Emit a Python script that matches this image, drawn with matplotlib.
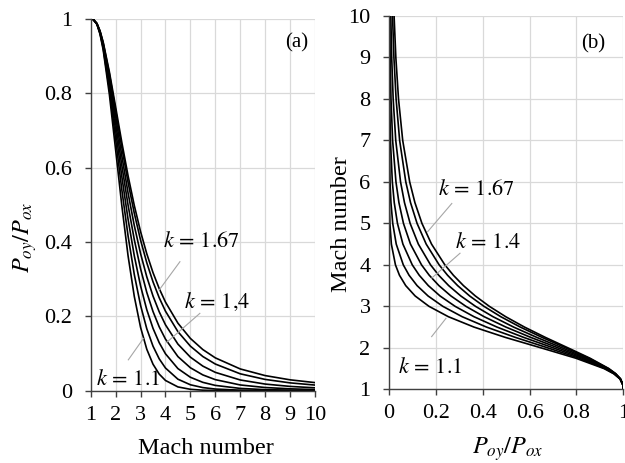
import matplotlib
matplotlib.use("Agg")
import matplotlib.pyplot as plt

# Mach number samples and total pressure ratio P_oy/P_ox
mach = [1.0, 1.1, 1.25, 1.375, 1.5, 1.75, 2.0, 2.25, 2.5, 2.75, 3.0, 3.25, 3.5, 3.75,
        4.0, 4.5, 5.0, 5.5, 6.0, 7.0, 8.0, 9.0, 10.0]

p_k110 = [1.0, 0.9989, 0.9857, 0.9590, 0.9174, 0.7970, 0.6482, 0.4973, 0.3627, 0.2534, 0.1707, 0.1116,
          0.0713, 0.0446, 0.0275, 0.0101, 0.0037, 0.0013, 0.0005, 0.0001, 0.0, 0.0, 0.0]
p_k120 = [1.0, 0.9989, 0.9861, 0.9609, 0.9220, 0.8114, 0.6767, 0.5401, 0.4162, 0.3123, 0.2298, 0.1667,
          0.1198, 0.0856, 0.0610, 0.0309, 0.0159, 0.0083, 0.0044, 0.0013, 0.0005, 0.0002, 0.0001]
p_k130 = [1.0, 0.9989, 0.9866, 0.9626, 0.9261, 0.8238, 0.7006, 0.5755, 0.4610, 0.3628, 0.2822, 0.2179,
          0.1678, 0.1290, 0.0993, 0.0594, 0.0361, 0.0224, 0.0142, 0.0061, 0.0028, 0.0014, 0.0007]
p_k140 = [1.0, 0.9989, 0.9871, 0.9642, 0.9298, 0.8346, 0.7209, 0.6055, 0.4990, 0.4062, 0.3283, 0.2645,
          0.2130, 0.1717, 0.1388, 0.0917, 0.0617, 0.0424, 0.0297, 0.0154, 0.0085, 0.0050, 0.0030]
p_k150 = [1.0, 0.9990, 0.9875, 0.9657, 0.9331, 0.8440, 0.7384, 0.6313, 0.5318, 0.4440, 0.3692, 0.3065,
          0.2547, 0.2121, 0.1773, 0.1253, 0.0902, 0.0661, 0.0493, 0.0288, 0.0178, 0.0115, 0.0077]
p_k160 = [1.0, 0.9990, 0.9879, 0.9670, 0.9362, 0.8524, 0.7538, 0.6538, 0.5603, 0.4772, 0.4054, 0.3443,
          0.2929, 0.2499, 0.2140, 0.1588, 0.1198, 0.0919, 0.0717, 0.0454, 0.0303, 0.0210, 0.0151]
p_k167 = [1.0, 0.9990, 0.9882, 0.9679, 0.9381, 0.8577, 0.7634, 0.6678, 0.5782, 0.4981, 0.4283, 0.3685,
          0.3177, 0.2747, 0.2384, 0.1816, 0.1406, 0.1106, 0.0883, 0.0585, 0.0406, 0.0292, 0.0217]

curvas = [p_k110, p_k120, p_k130, p_k140, p_k150, p_k160, p_k167]

ticks_mach = [1, 2, 3, 4, 5, 6, 7, 8, 9, 10]
ticks_ratio = [0, 0.2, 0.4, 0.6, 0.8, 1.0]
labels_ratio = ["0", "0.2", "0.4", "0.6", "0.8", "1"]

plt.rcParams["font.family"] = "Liberation Serif"
plt.rcParams["mathtext.fontset"] = "stix"

gris_grid = "#d9d9d9"
gris_eje = "#404040"
gris_guia = "#a6a6a6"


def estilo(ax):
    ax.grid(True, color=gris_grid, linewidth=0.9)
    ax.set_axisbelow(True)
    ax.spines["top"].set_visible(False)
    ax.spines["right"].set_visible(False)
    for s in ("left", "bottom"):
        ax.spines[s].set_color(gris_eje)
        ax.spines[s].set_linewidth(1.0)
    ax.tick_params(direction="out", length=4.3, width=1.0, color=gris_eje, labelsize=16)
    ax.tick_params(axis="x", pad=6.5)
    ax.tick_params(axis="y", pad=9)


fig = plt.figure(figsize=(6.25, 4.63), dpi=100)

# (a) ratio vs Mach
ax1 = fig.add_axes([0.1451, 0.1562, 0.3589, 0.8028])
for p in curvas:
    ax1.plot(mach, p, color="black", linewidth=1.2)
ax1.set_xlim(1, 10)
ax1.set_ylim(0, 1)
ax1.set_xticks(ticks_mach)
ax1.set_yticks(ticks_ratio)
ax1.set_yticklabels(labels_ratio)
estilo(ax1)
ax1.set_xlabel("Mach number", fontsize=17.5)
ax1.xaxis.set_label_coords(0.513, -0.126)
ax1.set_ylabel(r"$P_{oy}/P_{ox}$", fontsize=17.5, va="center")
ax1.yaxis.set_label_coords(-0.294, 0.413)
ax1.text(9.26, 0.935, "(a)", fontsize=15, ha="center", va="center")

ax1.text(5.45, 0.401, r"$k\,=\,1.67$", fontsize=16, ha="center", va="center")
ax1.plot([4.58, 3.75], [0.347, 0.271], color=gris_guia, linewidth=0.8)
ax1.text(6.05, 0.239, r"$k\,=\,1{,}4$", fontsize=16, ha="center", va="center")
ax1.plot([5.38, 4.05], [0.208, 0.130], color=gris_guia, linewidth=0.8)
ax1.text(2.51, 0.029, r"$k\,=\,1.1$", fontsize=16, ha="center", va="center")
ax1.plot([2.51, 3.11], [0.083, 0.140], color=gris_guia, linewidth=0.8)

# (b) Mach vs ratio
ax2 = fig.add_axes([0.6224, 0.1592, 0.3749, 0.8062])
for p in curvas:
    ax2.plot(p, mach, color="black", linewidth=1.2)
ax2.set_xlim(0, 1)
ax2.set_ylim(1, 10)
ax2.set_xticks(ticks_ratio)
ax2.set_xticklabels(labels_ratio)
ax2.set_yticks(ticks_mach)
estilo(ax2)
ax2.set_xlabel(r"$P_{oy}/P_{ox}$", fontsize=17.5)
ax2.xaxis.set_label_coords(0.508, -0.124)
ax2.set_ylabel("Mach number", fontsize=17.5, va="center")
ax2.yaxis.set_label_coords(-0.202, 0.443)
ax2.text(0.872, 9.34, "(b)", fontsize=15, ha="center", va="center")

ax2.text(0.374, 5.80, r"$k\,=\,1.67$", fontsize=16, ha="center", va="center")
ax2.plot([0.268, 0.165], [5.48, 4.80], color=gris_guia, linewidth=0.8)
ax2.text(0.424, 4.53, r"$k\,=\,1.4$", fontsize=16, ha="center", va="center")
ax2.plot([0.303, 0.182], [4.28, 3.68], color=gris_guia, linewidth=0.8)
ax2.text(0.175, 1.51, r"$k\,=\,1.1$", fontsize=16, ha="center", va="center")
ax2.plot([0.182, 0.243], [2.27, 2.71], color=gris_guia, linewidth=0.8)

fig.savefig("out.png", dpi=100)
